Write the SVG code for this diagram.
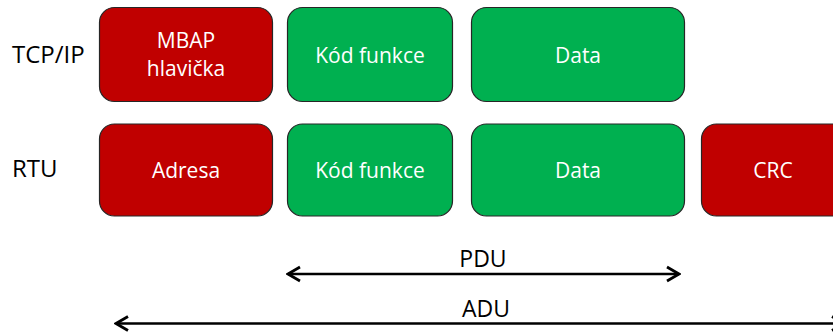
<svg xmlns="http://www.w3.org/2000/svg" width="833" height="334" viewBox="0 0 833 334">
  <style>
    .box { stroke: #262626; stroke-width: 1.2; }
    .red { fill: #C00000; }
    .green { fill: #00B050; }
    .lbl { font-family: "Open Sans", "Liberation Sans", sans-serif; font-size: 21px; fill: #ffffff; text-anchor: middle; }
    .side { font-family: "Open Sans", "Liberation Sans", sans-serif; font-size: 24px; fill: #000000; }
    .span { font-family: "Open Sans", "Liberation Sans", sans-serif; font-size: 23px; fill: #000000; text-anchor: middle; }
    .conn { stroke: #000000; stroke-width: 2.5; fill: none; }
  </style>
  <defs>
    <marker id="chev" viewBox="-14 -9 16 18" refX="0" refY="0" markerWidth="16" markerHeight="18" markerUnits="userSpaceOnUse" orient="auto-start-reverse">
      <path d="M -12 -7 L 0 0 L -12 7" fill="none" stroke="#000" stroke-width="2.8" stroke-linejoin="miter"/>
    </marker>
  </defs>
  <rect width="833" height="334" fill="#ffffff"/>

  <!-- row labels -->
  <g id="label-tcpip"><text class="side" x="12" y="62.5">TCP/IP</text></g>
  <g id="label-rtu"><text class="side" x="12" y="177">RTU</text></g>

  <!-- TCP/IP frame -->
  <g id="mbap">
    <rect class="box red" x="99.5" y="7.5" width="173" height="94" rx="15"/>
    <text class="lbl" x="186" y="48">MBAP</text>
    <text class="lbl" x="186" y="76">hlavička</text>
  </g>
  <g id="tcp-func">
    <rect class="box green" x="287.5" y="7.5" width="165" height="94" rx="15"/>
    <text class="lbl" x="370" y="63">Kód funkce</text>
  </g>
  <g id="tcp-data">
    <rect class="box green" x="471.5" y="7.5" width="213" height="94" rx="15"/>
    <text class="lbl" x="578" y="63">Data</text>
  </g>

  <!-- RTU frame -->
  <g id="address">
    <rect class="box red" x="99.5" y="124" width="173" height="92" rx="15"/>
    <text class="lbl" x="186" y="178">Adresa</text>
  </g>
  <g id="rtu-func">
    <rect class="box green" x="287.5" y="124" width="165" height="92" rx="15"/>
    <text class="lbl" x="370" y="178">Kód funkce</text>
  </g>
  <g id="rtu-data">
    <rect class="box green" x="471.5" y="124" width="213" height="92" rx="15"/>
    <text class="lbl" x="578" y="178">Data</text>
  </g>
  <g id="crc">
    <rect class="box red" x="701.5" y="124" width="175" height="92" rx="15"/>
    <text class="lbl" x="773" y="178">CRC</text>
  </g>

  <!-- span arrows -->
  <g id="connectors">
    <line class="conn" x1="288" y1="274" x2="679" y2="274" marker-start="url(#chev)" marker-end="url(#chev)"/>
    <line class="conn" x1="116" y1="323.5" x2="844" y2="323.5" marker-start="url(#chev)" marker-end="url(#chev)"/>
  </g>
  <g id="label-pdu"><text class="span" x="483" y="267">PDU</text></g>
  <g id="label-adu"><text class="span" x="486" y="317">ADU</text></g>
</svg>
